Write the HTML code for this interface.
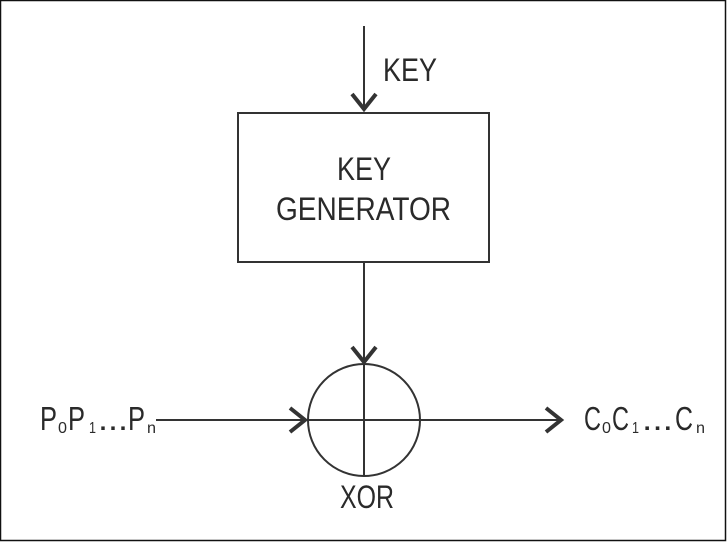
<!DOCTYPE html>
<html><head><meta charset="utf-8"><style>
html,body{margin:0;padding:0;background:#fff}
svg{display:block}
text{font-family:"Liberation Sans",sans-serif;fill:#2a2a2a}
</style></head><body>
<svg width="727" height="542" viewBox="0 0 727 542" xmlns="http://www.w3.org/2000/svg">
<rect x="0.5" y="0.5" width="725" height="540" fill="#fff" stroke="#111" stroke-width="1.5"/>
<g stroke="#333" fill="none">
<line x1="364" y1="26" x2="364" y2="111" stroke-width="2"/>
<polyline points="352,94 364,109 376,94" stroke-width="4"/>
<rect x="238" y="113" width="251" height="149" stroke-width="2"/>
<line x1="364" y1="262" x2="364" y2="476" stroke-width="2"/>
<polyline points="352,347 364,362 376,347" stroke-width="4"/>
<circle cx="364" cy="420" r="56" stroke-width="2"/>
<line x1="156" y1="420" x2="562" y2="420" stroke-width="2"/>
<polyline points="290,408 305,420 290,432" stroke-width="4"/>
<polyline points="546,408 561,420 546,432" stroke-width="4"/>
</g>
<text x="383" y="81" font-size="32" textLength="54" lengthAdjust="spacingAndGlyphs">KEY</text>
<text x="337" y="180" font-size="32" textLength="54" lengthAdjust="spacingAndGlyphs">KEY</text>
<text x="276" y="220" font-size="32" textLength="175" lengthAdjust="spacingAndGlyphs">GENERATOR</text>
<text x="340" y="508" font-size="32" textLength="54" lengthAdjust="spacingAndGlyphs">XOR</text>

<text x="40" y="430" font-size="33" textLength="17" lengthAdjust="spacingAndGlyphs">P</text>
<text x="58" y="433" font-size="16" textLength="9" lengthAdjust="spacingAndGlyphs">0</text>
<text x="68" y="430" font-size="33" textLength="17" lengthAdjust="spacingAndGlyphs">P</text>
<text x="89" y="433" font-size="16" textLength="7" lengthAdjust="spacingAndGlyphs">1</text>
<text x="98" y="430" font-size="33" textLength="30" lengthAdjust="spacingAndGlyphs">...</text>
<text x="128" y="430" font-size="33" textLength="17" lengthAdjust="spacingAndGlyphs">P</text>
<text x="147" y="433" font-size="16" textLength="9" lengthAdjust="spacingAndGlyphs">n</text>

<text x="584" y="430" font-size="33" textLength="17" lengthAdjust="spacingAndGlyphs">C</text>
<text x="602" y="433" font-size="16" textLength="9" lengthAdjust="spacingAndGlyphs">0</text>
<text x="612" y="430" font-size="33" textLength="17" lengthAdjust="spacingAndGlyphs">C</text>
<text x="632" y="433" font-size="16" textLength="7" lengthAdjust="spacingAndGlyphs">1</text>
<text x="642" y="430" font-size="33" textLength="31" lengthAdjust="spacingAndGlyphs">...</text>
<text x="675" y="430" font-size="33" textLength="18" lengthAdjust="spacingAndGlyphs">C</text>
<text x="696" y="433" font-size="16" textLength="9" lengthAdjust="spacingAndGlyphs">n</text>
</svg>
</body></html>
